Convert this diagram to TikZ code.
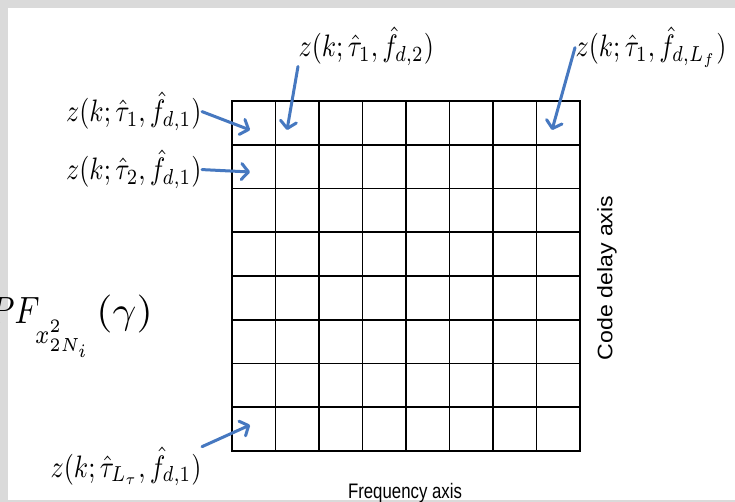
\documentclass[tikz,border=0pt]{standalone}
\usepackage{fontspec}
\newfontfamily\axisfont{Liberation Sans}
\usetikzlibrary{arrows.meta}

\definecolor{slidegrey}{RGB}{218,218,218}
\definecolor{ptrblue}{RGB}{70,120,192}

\begin{document}
\begin{tikzpicture}[
    x=1pt, y=-1pt,
    lbl/.style={inner sep=0pt, xscale=2.6, yscale=3.1},
    pdf/.style={inner sep=0pt, xscale=3.2, yscale=3.8},
    axislbl/.style={inner sep=0pt, font=\axisfont\fontsize{21}{25}\selectfont},
    cellline/.style={draw, line width=1.8pt, line cap=rect},
    ptr/.style={draw=ptrblue, line width=3pt, line cap=round,
                -{Straight Barb[length=7pt, width=16pt, round]}}
]

% Fond (slide)
\useasboundingbox (0,0) rectangle (735,502);
\fill[slidegrey] (0,0) rectangle (735,502);
\fill[white] (8,8) rectangle (735,500);

% Grila 8 x 8
\foreach \i in {0,...,8} {
    \draw[cellline] ({232+43.5*\i},101) -- ({232+43.5*\i},451);
    \draw[cellline] (232,{101+43.75*\i}) -- (580,{101+43.75*\i});
}

% Etichete
\node[lbl, anchor=base west] (lab12) at (298,57) {$z(k;\hat{\tau}_1,\hat{f}_{d,2})$};
\node[lbl, anchor=base west] (lab18) at (575,57) {$z(k;\hat{\tau}_1,\hat{f}_{d,L_f})$};
\node[lbl, anchor=base east] (lab11) at (202,122) {$z(k;\hat{\tau}_1,\hat{f}_{d,1})$};
\node[lbl, anchor=base east] (lab21) at (202,180) {$z(k;\hat{\tau}_2,\hat{f}_{d,1})$};
\node[lbl, anchor=base east] (labL)  at (202,477) {$z(k;\hat{\tau}_{L_\tau},\hat{f}_{d,1})$};
\node[pdf, anchor=base west] (pdfF)  at (-11,323)
    {$PF_{\lower4pt\hbox{$\scriptstyle x^2_{2N_i}$}}\,\scalebox{1.3}[1]{$(\gamma)$}$};

% Axe
\node[axislbl, anchor=base] (freq) at (405,498) {\scalebox{0.8}[1]{Frequency axis}};
\node[axislbl, rotate=90] (delay) at (607,278) {\scalebox{1.1}[1]{Code delay axis}};

% Varfuri sageti
\coordinate (tip11) at (250,130);
\coordinate (tip12) at (287,130);
\coordinate (tip18) at (552,130);
\coordinate (tip21) at (250,172);
\coordinate (tipL)  at (250,425);

% Sageti
\draw[ptr] (lab11.east) -- (tip11);
\draw[ptr] (lab21.east) -- (tip21);
\draw[ptr] (lab12.south west) -- (tip12);
\draw[ptr] (lab18.west) -- (tip18);
\draw[ptr] (labL.north east) -- (tipL);

\end{tikzpicture}
\end{document}
